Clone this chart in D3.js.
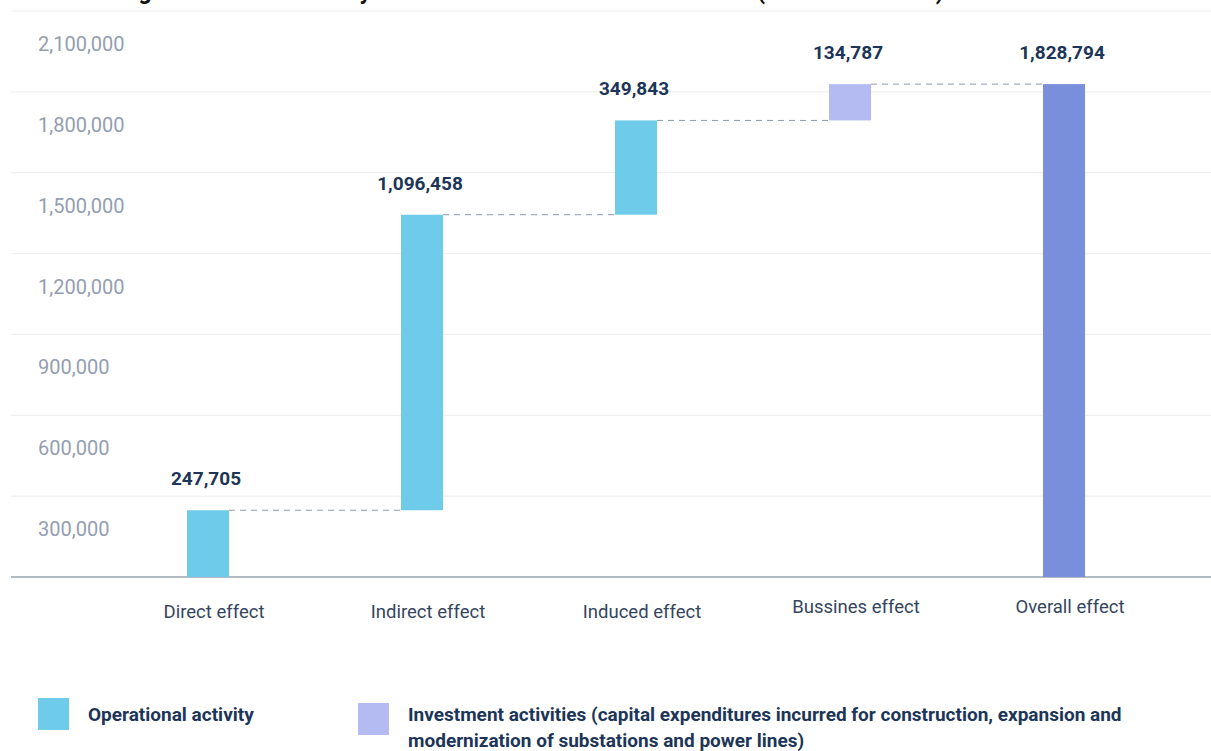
<!DOCTYPE html>
<html><head><meta charset="utf-8">
<script src="https://cdn.jsdelivr.net/npm/d3@7"></script>
<style>
body{margin:0;background:#fff;}
svg{display:block;font-family:Roboto, "Open Sans", sans-serif;}
</style>
</head><body>
<svg id="c" width="1211" height="751"></svg>
<script>
const titleText = "Total added gross value created by the activities of the Network in 2021 (in RSD thousand)";
const categories = ["Direct effect", "Indirect effect", "Induced effect", "Bussines effect", "Overall effect"];
const values = [247705, 1096458, 349843, 134787, 1828794];
const barTypes = ["operational", "operational", "operational", "investment", "total"];
const yTicks = [300000, 600000, 900000, 1200000, 1500000, 1800000, 2100000];
const legendTypes = ["operational", "investment"];
const legendLines = [
  ["Operational activity"],
  ["Investment activities (capital expenditures incurred for construction, expansion and",
   "modernization of substations and power lines)"]
];

const colors = {operational: "#6ecbe9", investment: "#b3bbf2", total: "#7a8fdb"};

const svg = d3.select("#c");
const W = 1211;
const y = d3.scaleLinear().domain([0, 2100000]).range([577, 11]);
const x = d3.scalePoint().domain(categories).range([208, 1064]);
const barW = 42;
const fmt = d3.format(",");

let acc = 0;
const bars = categories.map((c, i) => {
  let start, end;
  if (barTypes[i] === "total") { start = 0; end = values[i]; }
  else { start = acc; end = acc + values[i]; acc = end; }
  return {c, i, start, end, v: values[i], type: barTypes[i]};
});

// title (cropped at top, as in the source)
svg.append("text").attr("x", 12).attr("y", -1)
  .attr("font-size", 23).attr("font-weight", 700).attr("fill", "#111")
  .text(titleText);

// gridlines
svg.append("g").selectAll("line").data(yTicks).join("line")
  .attr("x1", 11).attr("x2", W)
  .attr("y1", d => y(d)).attr("y2", d => y(d))
  .attr("stroke", "#ededed").attr("stroke-width", 1);

// tick labels (drawn below their gridline)
svg.append("g").selectAll("text").data(yTicks).join("text")
  .attr("x", 38).attr("y", d => y(d) + 33)
  .attr("dominant-baseline", "central")
  .attr("font-size", 20).attr("fill", "#939eb0")
  .text(d => fmt(d));

// baseline
svg.append("line").attr("x1", 11).attr("x2", W)
  .attr("y1", y(0)).attr("y2", y(0))
  .attr("stroke", "#b3bbc2").attr("stroke-width", 2);

// connectors
svg.append("g").selectAll("line").data(bars.slice(0, -1)).join("line")
  .attr("x1", d => x(d.c) + barW / 2)
  .attr("x2", d => x(categories[d.i + 1]) - barW / 2)
  .attr("y1", d => y(d.end)).attr("y2", d => y(d.end))
  .attr("stroke", "#8c9aab").attr("stroke-width", 1)
  .attr("stroke-dasharray", "6,5");

// bars
svg.append("g").selectAll("rect").data(bars).join("rect")
  .attr("x", d => x(d.c) - barW / 2)
  .attr("width", barW)
  .attr("y", d => y(d.end))
  .attr("height", d => y(d.start) - y(d.end))
  .attr("fill", d => colors[d.type]);

// value labels
svg.append("g").selectAll("text").data(bars).join("text")
  .attr("x", d => x(d.c) - 2)
  .attr("y", d => y(d.end) - 25)
  .attr("text-anchor", "middle")
  .attr("font-size", 19).attr("font-weight", 700).attr("fill", "#1c3558")
  .text(d => fmt(d.v));

// category labels
svg.append("g").selectAll("text").data(bars).join("text")
  .attr("x", d => x(d.c) + 6)
  .attr("y", d => d.i < 3 ? 618 : 613)
  .attr("text-anchor", "middle")
  .attr("font-size", 18.5).attr("fill", "#34455e")
  .text(d => d.c);

// legend
const legX = [38, 358];
const leg = svg.append("g").selectAll("g").data(legendTypes).join("g")
  .attr("transform", (d, i) => `translate(${legX[i]},${i === 0 ? 698 : 703})`);
leg.append("rect").attr("width", 31).attr("height", 32)
  .attr("fill", d => colors[d]);
leg.each(function(d, i) {
  const t = d3.select(this).append("text")
    .attr("x", 50).attr("y", i === 0 ? 23 : 18)
    .attr("font-size", 19).attr("font-weight", 700).attr("fill", "#1c3558");
  legendLines[i].forEach((line, k) => {
    t.append("tspan").attr("x", 50).attr("dy", k === 0 ? 0 : 26).text(line);
  });
});
</script>
</body></html>
